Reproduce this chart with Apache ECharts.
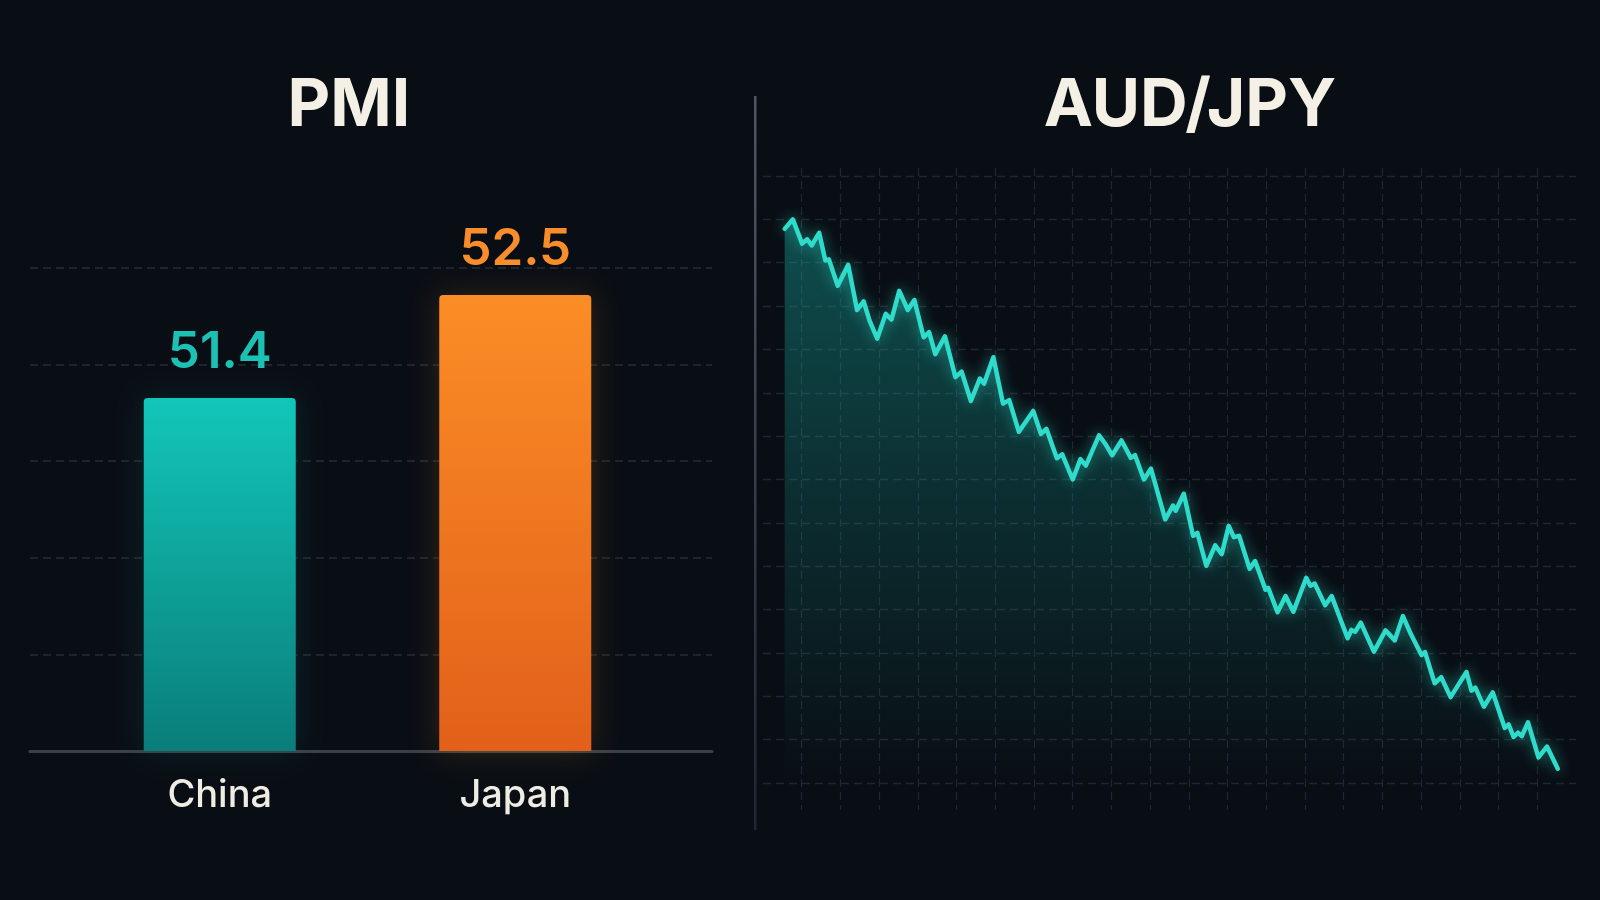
<!DOCTYPE html>
<html><head><meta charset="utf-8">
<script src="https://cdn.jsdelivr.net/npm/echarts@6/dist/echarts.min.js"></script>
<style>html,body{margin:0;padding:0;background:#090e14;}#c{width:1600px;height:900px;}</style>
</head><body><div id="c"></div>
<script>
// ---- Data ----
const pmiTitle = 'PMI';
const pmiCategories = ['China', 'Japan'];
const pmiValues = [51.4, 52.5];
const pmiColorsTop = ['#12c6b9', '#fb8d26'];
const pmiColorsBottom = ['#0a7d7a', '#e2601a'];
const pmiLabelColors = ['#1cc1b3', '#f98d2b'];

const fxTitle = 'AUD/JPY';
const fxDays = [5.6,7.7,10.1,11.4,12.6,14.5,16.1,17.0,19.3,22.0,24.3,26.0,27.5,29.5,31.7,33.2,35.2,37.4,39.1,41.5,42.9,44.5,47.0,49.7,51.3,53.7,56.0,57.1,59.5,62.0,63.6,66.1,69.8,71.8,73.2,75.9,77.3,80.0,82.0,83.4,86.8,88.5,90.2,92.6,95.0,96.1,98.4,100.2,103.9,105.9,106.6,108.7,111.1,112.2,114.5,116.8,118.5,120.3,121.6,123.0,125.7,127.1,129.8,130.5,132.9,135.0,137.0,140.3,141.4,142.5,145.2,146.9,151.0,152.0,153.0,154.4,157.8,160.8,163.2,165.3,167.3,170.1,171.0,173.5,175.2,177.6,181.7,183.0,184.0,186.2,188.5,191.6,192.6,193.9,195.0,196.0,197.6,200.3,202.5,205.3];
const fxPrices = [104.78,105.00,104.44,104.54,104.40,104.69,104.05,104.08,103.47,103.95,102.91,103.11,102.67,102.25,102.82,102.69,103.35,102.91,103.14,102.28,102.40,101.89,102.30,101.36,101.49,100.81,101.33,101.21,101.82,100.75,100.83,100.10,100.58,100.05,100.17,99.49,99.58,99.00,99.47,99.32,100.02,99.81,99.56,99.90,99.50,99.56,99.00,99.25,98.08,98.40,98.28,98.67,97.70,97.77,97.01,97.48,97.28,97.93,97.67,97.70,96.94,97.12,96.46,96.50,95.94,96.31,95.95,96.73,96.55,96.60,96.10,96.31,95.34,95.53,95.49,95.70,95.03,95.52,95.29,95.85,95.44,94.95,95.02,94.30,94.44,93.98,94.56,94.13,94.20,93.76,94.09,93.27,93.35,93.06,93.16,93.08,93.40,92.59,92.84,92.33];

// ---- Chart ----
const chart = echarts.init(document.getElementById('c'), null, {renderer: 'canvas'});
const FONT = 'Inter, "Noto Sans", sans-serif';
const grad = (top, bottom) => new echarts.graphic.LinearGradient(0, 0, 0, 1, [{offset: 0, color: top}, {offset: 1, color: bottom}]);

const option = {
  backgroundColor: '#090e14',
  animation: false,
  title: [
    {text: pmiTitle, left: 344, top: 68, textAlign: 'center',
     textStyle: {color: '#f4f0e6', fontSize: 66, fontWeight: 700, fontFamily: FONT}},
    {text: fxTitle, left: 1185, top: 68, textAlign: 'center',
     textStyle: {color: '#f4f0e6', fontSize: 66, fontWeight: 700, fontFamily: FONT}}
  ],
  grid: [
    {left: 72, right: 937, top: 267, bottom: 149},   // bars
    {left: 30, right: 888, top: 268, bottom: 149},   // left panel grid lines + baseline
    {left: 763, right: 24, top: 176, bottom: 117},   // fx line + horizontal lines
    {left: 763, right: 24, top: 168, bottom: 90}     // fx vertical lines
  ],
  xAxis: [
    {gridIndex: 0, type: 'category', data: pmiCategories,
     axisLine: {show: false}, axisTick: {show: false},
     axisLabel: {color: '#efece4', fontSize: 38, fontWeight: 500, fontFamily: FONT, margin: 26}},
    {gridIndex: 1, type: 'value', min: 0, max: 1,
     axisLine: {show: true, lineStyle: {color: '#3a4048', width: 3}},
     axisTick: {show: false}, axisLabel: {show: false}, splitLine: {show: false}},
    {gridIndex: 2, type: 'value', min: 0, max: 210,
     axisLine: {show: false}, axisTick: {show: false}, axisLabel: {show: false}, splitLine: {show: false}},
    {gridIndex: 3, type: 'value', min: 0, max: 210, interval: 10,
     axisLine: {show: false}, axisTick: {show: false}, axisLabel: {show: false},
     splitLine: {show: true, showMinLine: false, showMaxLine: false,
                 lineStyle: {color: '#1f262d', width: 1.3, type: [8, 5]}}}
  ],
  yAxis: [
    {gridIndex: 0, type: 'value', min: 47.63, max: 52.8,
     axisLine: {show: false}, axisTick: {show: false}, axisLabel: {show: false}, splitLine: {show: false}},
    {gridIndex: 1, type: 'value', min: 0, max: 5, interval: 1,
     axisLine: {show: false}, axisTick: {show: false}, axisLabel: {show: false},
     splitLine: {show: true, showMinLine: false, lineStyle: {color: '#262c34', width: 1.5, type: [8, 5]}}},
    {gridIndex: 2, type: 'value', min: 92, max: 106, interval: 1,
     axisLine: {show: false}, axisTick: {show: false}, axisLabel: {show: false},
     splitLine: {show: true, lineStyle: {color: '#1f262d', width: 1.3, type: [8, 5]}}},
    {gridIndex: 3, type: 'value', min: 0, max: 1,
     axisLine: {show: false}, axisTick: {show: false}, axisLabel: {show: false}, splitLine: {show: false}}
  ],
  series: [
    {type: 'bar', xAxisIndex: 0, yAxisIndex: 0, barWidth: 152,
     data: pmiValues.map((v, i) => ({
       value: v,
       itemStyle: {color: grad(pmiColorsTop[i], pmiColorsBottom[i]), borderRadius: [4, 4, 0, 0],
                   shadowBlur: 30, shadowColor: i === 0 ? 'rgba(18,198,185,0.12)' : 'rgba(251,141,38,0.18)'},
       label: {show: true, position: 'top', distance: 20, color: pmiLabelColors[i],
               fontSize: 51, fontWeight: 600, fontFamily: FONT, formatter: (p) => p.value.toFixed(1)}
     }))},
    {type: 'line', xAxisIndex: 2, yAxisIndex: 2, symbol: 'none', smooth: false,
     data: fxDays.map((d, i) => [d, fxPrices[i]]),
     lineStyle: {color: '#2fdccb', width: 4.5, join: 'round', cap: 'round',
                 shadowBlur: 14, shadowColor: 'rgba(45,214,198,0.6)'},
     areaStyle: {origin: 'start', color: grad('rgba(24,180,170,0.55)', 'rgba(24,175,165,0.0)')}}
  ],
  graphic: [
    {type: 'rect', shape: {x: 754, y: 96, width: 2.5, height: 734},
     style: {fill: grad('#50565e', '#20262d')}, silent: true}
  ]
};
chart.setOption(option);
</script>
</body></html>
